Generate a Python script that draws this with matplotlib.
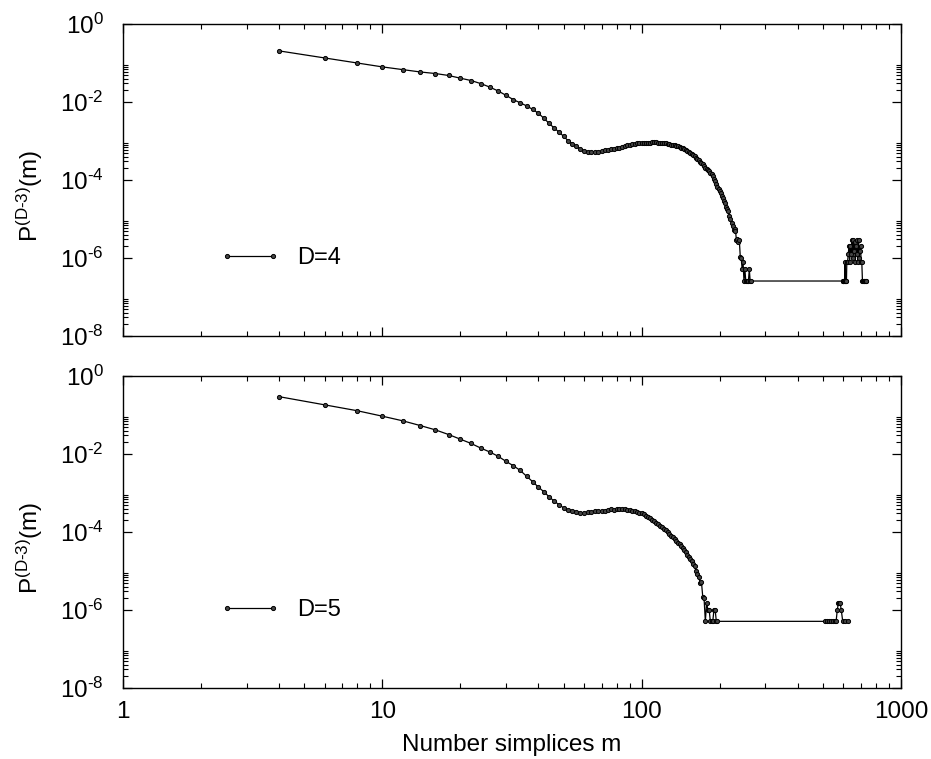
import numpy as np
import matplotlib
matplotlib.use("Agg")
import matplotlib.pyplot as plt

plt.rcParams['font.family'] = ['Liberation Sans', 'DejaVu Sans']
plt.rcParams['mathtext.fontset'] = 'custom'
plt.rcParams['mathtext.rm'] = 'Liberation Sans'
plt.rcParams['mathtext.default'] = 'regular'

HY = "\u2010"  # plain hyphen, as in the original labels

# ---- data: m (number of simplices), log10 P ----
m_d4 = list(range(4, 266, 2)) + [
    596, 598, 600, 604, 606, 608, 610, 614, 616, 618, 622, 626, 630, 634, 638,
    642, 646, 650, 654, 658, 662, 666, 670, 674, 678, 682, 686, 690, 694, 698,
    702, 706, 710, 714, 718, 722, 726, 730, 736]
logp_d4 = [
    -0.69, -0.87, -1.00, -1.10, -1.17, -1.23, -1.27, -1.32, -1.39, -1.45,   # 4-22
    -1.53, -1.62, -1.72, -1.83, -1.94, -2.02, -2.10, -2.19, -2.29, -2.42,   # 24-42
    -2.55, -2.67, -2.77, -2.88, -2.99, -3.07, -3.14, -3.20, -3.25, -3.27,   # 44-62
    -3.28, -3.28, -3.27, -3.26, -3.24, -3.23, -3.21, -3.20, -3.18, -3.17,   # 64-82
    -3.15, -3.13, -3.11, -3.09, -3.08, -3.07, -3.06, -3.06, -3.05, -3.05,   # 84-102
    -3.04, -3.04, -3.04, -3.03, -3.03, -3.03, -3.04, -3.04, -3.04, -3.05,   # 104-122
    -3.06, -3.07, -3.08, -3.09, -3.10, -3.11, -3.12, -3.14, -3.15, -3.17,   # 124-142
    -3.19, -3.21, -3.23, -3.25, -3.28, -3.30, -3.33, -3.36, -3.39, -3.43,   # 144-162
    -3.46, -3.50, -3.54, -3.57, -3.60, -3.64, -3.68, -3.71, -3.74, -3.78,   # 164-182
    -3.81, -3.85, -3.90, -3.97, -4.03, -4.10, -4.18, -4.22, -4.28, -4.33,   # 184-202
    -4.40, -4.47, -4.54, -4.60, -4.68, -4.74, -4.80, -4.92, -5.00, -5.09,   # 204-222
    -5.18, -5.28, -5.26, -5.30, -5.55, -5.52, -5.60, -5.55, -5.97, -5.99,   # 224-242
    -6.29, -6.11, -6.59, -6.29, -6.59, -6.59, -6.59, -6.59, -6.29, -6.59,   # 244-262
    -6.59,                                                                  # 264
    -6.59, -6.59, -6.59, -6.59, -6.59, -6.11, -6.59, -6.59, -6.59, -6.11,   # tail
    -6.11, -5.89, -5.69, -6.11, -5.69, -5.89, -5.55, -5.99, -5.55, -5.81,
    -5.59, -6.11, -5.69, -5.55, -5.89, -6.11, -5.55, -5.99, -5.81, -5.69,
    -6.11, -6.11, -6.59, -6.59, -6.59, -6.59, -6.59, -6.59, -6.59]

m_d5 = list(range(4, 198, 2)) + [
    510, 518, 526, 536, 548, 554, 562, 568, 574, 578, 582, 588, 596, 608, 622]
logp_d5 = [
    -0.53, -0.74, -0.89, -1.03, -1.15, -1.27, -1.38, -1.50, -1.62, -1.73,   # 4-22
    -1.85, -1.95, -2.06, -2.19, -2.30, -2.42, -2.57, -2.71, -2.85, -2.97,   # 24-42
    -3.10, -3.21, -3.30, -3.38, -3.44, -3.45, -3.48, -3.50, -3.52, -3.49,   # 44-62
    -3.48, -3.47, -3.46, -3.46, -3.45, -3.43, -3.42, -3.43, -3.42, -3.41,   # 64-82
    -3.42, -3.42, -3.43, -3.44, -3.45, -3.47, -3.48, -3.50, -3.52, -3.55,   # 84-102
    -3.58, -3.61, -3.65, -3.69, -3.72, -3.76, -3.80, -3.84, -3.88, -3.92,   # 104-122
    -3.96, -4.00, -4.05, -4.09, -4.14, -4.18, -4.22, -4.27, -4.31, -4.37,   # 124-142
    -4.42, -4.47, -4.52, -4.58, -4.64, -4.70, -4.74, -4.82, -4.88, -5.00,   # 144-162
    -5.08, -5.15, -5.30, -5.28, -5.66, -5.70, -6.29, -5.81, -5.99, -5.99,   # 164-182
    -6.29, -6.29, -6.29, -5.99, -5.99, -6.29, -6.29,                        # 184-196
    -6.29, -6.29, -6.29, -6.29, -6.29, -6.29, -6.29, -5.99, -5.81, -5.81,   # tail
    -5.81, -5.99, -6.29, -6.29, -6.29]

panels = [("D=4", m_d4, logp_d4), ("D=5", m_d5, logp_d5)]

xmajor = [1, 10, 100, 1000]
xlabels = ["1", "10", "100", "1000"]
ymajor = [1e0, 1e-2, 1e-4, 1e-6, 1e-8]
ylabels = [r"$10^{0}$"] + [r"$10^{%s%d}$" % (HY, e) for e in (2, 4, 6, 8)]
xminor = [k * 10.0 ** e for e in range(0, 3) for k in range(2, 10)]
yminor = [k * 10.0 ** e for e in (-8, -6, -4, -2) for k in range(2, 10)]

fig = plt.figure(figsize=(9.31, 7.59), dpi=100)
rects = [[0.1321, 0.5573, 0.8357, 0.4111], [0.1321, 0.0935, 0.8357, 0.4111]]

for rect, (name, m, logp) in zip(rects, panels):
    ax = fig.add_axes(rect)
    p = 10.0 ** np.array(logp)
    ax.plot(m, p, color="black", lw=0.9, marker="o", ms=3.0,
            mfc="#444444", mec="black", mew=0.7, label=name)
    ax.set_xscale("log")
    ax.set_yscale("log")
    ax.set_xlim(1, 1000)
    ax.set_ylim(1e-8, 1)
    ax.set_xticks(xmajor)
    ax.set_xticks(xminor, minor=True)
    ax.set_yticks(ymajor)
    ax.set_yticks(yminor, minor=True)
    ax.set_yticklabels(ylabels)
    ax.set_xticklabels(xlabels)
    ax.tick_params(which="both", direction="in", top=True, right=True,
                   labelsize=17.5, color="black")
    ax.tick_params(which="major", length=6.5, width=0.9)
    ax.tick_params(which="minor", length=3.5, width=0.8)
    ax.tick_params(axis="y", pad=14)
    ax.tick_params(axis="x", pad=9)
    for s in ax.spines.values():
        s.set_linewidth(1.0)
    ax.set_ylabel(r"P$^{(D%s3)}$(m)" % HY, fontsize=17.5)
    ax.yaxis.set_label_coords(-0.100, 0.45)
    ax.legend(loc="center left", bbox_to_anchor=(0.125, 0.25), frameon=False,
              handlelength=2.55, handletextpad=0.7, borderpad=0, borderaxespad=0,
              numpoints=2, fontsize=17)
    if name == "D=4":
        ax.tick_params(axis="x", labelbottom=False)
    else:
        ax.set_xlabel("Number simplices m", fontsize=17.5, labelpad=8)

fig.savefig("out.png", dpi=100)
